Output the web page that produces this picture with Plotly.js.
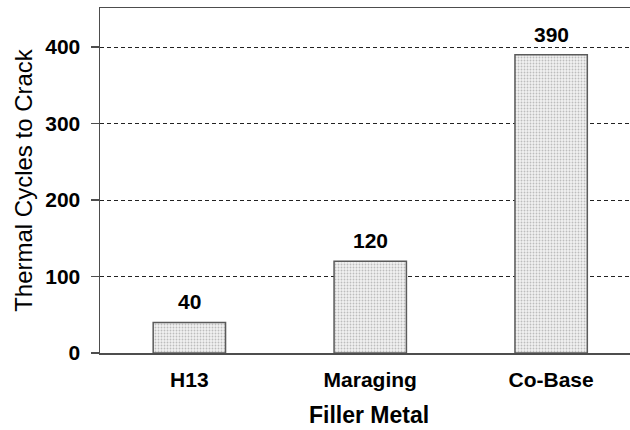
<!DOCTYPE html>
<html>
<head>
<meta charset="utf-8">
<script src="https://cdn.plot.ly/plotly-3.0.1.min.js"></script>
<style>html,body{margin:0;padding:0;background:#fff;}#chart{width:630px;height:430px;}</style>
</head>
<body>
<div id="chart"></div>
<script>
var categories = ["H13", "Maraging", "Co-Base"];
var cyclesToCrack = [40, 120, 390];
var labelTexts = ["40", "120", "390"];
var yTickVals = [0, 100, 200, 300, 400];
var xTitle = "Filler Metal";
var yTitle = "Thermal Cycles to Crack";

var font = "Liberation Sans, Arial, sans-serif";

var trace = {
  type: "bar",
  x: categories,
  y: cyclesToCrack,
  width: 0.4,
  marker: {
    color: "#f0f0f0",
    line: {color: "#5a5a5a", width: 1.5},
    pattern: {shape: ".", bgcolor: "#f2f2f2", fgcolor: "#bdbdbd", size: 3, solidity: 0.3}
  },
  hoverinfo: "skip"
};

var annotations = categories.map(function (c, i) {
  return {
    x: c, y: cyclesToCrack[i], xref: "x", yref: "y",
    text: "<b>" + labelTexts[i] + "</b>",
    showarrow: false, yanchor: "bottom", yshift: 7,
    font: {family: font, size: 21, color: "#000"}
  };
});
annotations.push({
  x: 0.5, y: 0, xref: "paper", yref: "paper",
  text: "<b>" + xTitle + "</b>",
  showarrow: false, xanchor: "center", yanchor: "bottom", yshift: -76, xshift: 4,
  borderpad: 0,
  font: {family: font, size: 23, color: "#000"}
});

var layout = {
  width: 630, height: 430,
  margin: {l: 100, r: 0, t: 8, b: 77},
  paper_bgcolor: "#fff", plot_bgcolor: "#fff",
  showlegend: false,
  font: {family: font, color: "#000"},
  xaxis: {
    type: "category",
    range: [-0.494, 2.436],
    showline: true, linecolor: "#4d4d4d", linewidth: 1.5, mirror: true,
    ticks: "", showgrid: false, zeroline: false,
    tickfont: {family: font, size: 21, color: "#000", weight: "bold"},
    ticklabelstandoff: 7
  },
  yaxis: {
    range: [0, 451],
    tickvals: yTickVals,
    showline: true, linecolor: "#4d4d4d", linewidth: 1.5,
    ticks: "outside", ticklen: 14, tickwidth: 1.5, tickcolor: "rgba(0,0,0,0)",
    showgrid: true, gridcolor: "#222", gridwidth: 1, griddash: "4px,3px",
    zeroline: false,
    tickfont: {family: font, size: 21, color: "#000", weight: "bold"},
    title: {text: yTitle, font: {family: font, size: 24, color: "#000"}, standoff: 6}
  },
  yaxis2: {
    overlaying: "y", matches: "y", side: "left",
    tickvals: yTickVals,
    showline: false, showgrid: false, zeroline: false, showticklabels: false,
    ticks: "outside", ticklen: 8, tickwidth: 1.5, tickcolor: "#4d4d4d"
  },
  annotations: annotations
};

var ghost = {type: "scatter", x: [], y: [], yaxis: "y2", hoverinfo: "skip", showlegend: false};

Plotly.newPlot("chart", [trace, ghost], layout, {staticPlot: true, displayModeBar: false});
</script>
</body>
</html>
